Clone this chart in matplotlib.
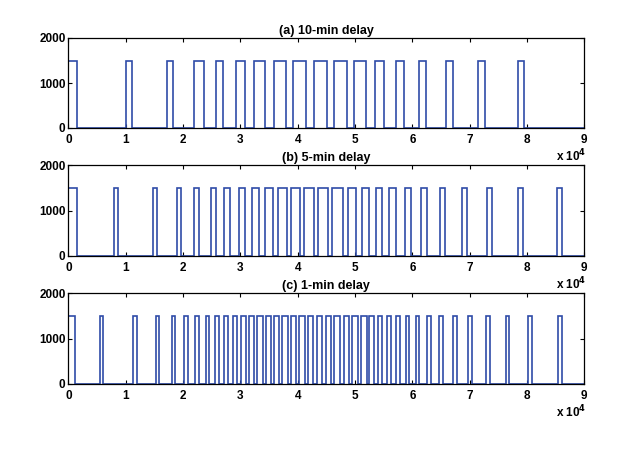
import matplotlib
matplotlib.use("Agg")
import matplotlib.pyplot as plt
import numpy as np

plt.rcParams['font.family'] = ['Liberation Sans', 'DejaVu Sans']

titles = ["(a) 10-min delay", "(b) 5-min delay", "(c) 1-min delay"]
pulse_level = 1500

# pulse start / end times (seconds)
starts_a = [0, 10000, 17160, 21860, 25700, 29240, 32440, 35820, 39240, 42850, 46290,
            49880, 53490, 57100, 61110, 65820, 71510, 78380]
ends_a = [1560, 11050, 18310, 23660, 27030, 30810, 34300, 37910, 41450, 45060, 48550,
          51920, 55110, 58550, 62380, 67040, 72680, 79480]

starts_b = [0, 7960, 14710, 18900, 21920, 24830, 27200, 29770, 31980, 34250, 36520,
            38780, 41160, 43490, 45940, 48730, 51170, 53610, 55980, 58720, 61510,
            64830, 68720, 73080, 78380, 85180]
ends_b = [1460, 8710, 15410, 19600, 22790, 25700, 28200, 30810, 33250, 35750, 38090,
          40410, 42850, 45240, 47850, 50170, 52490, 54660, 57100, 59720, 62510,
          65700, 69480, 73950, 79250, 86050]

starts_c = [0, 5520, 11330, 15240, 18030, 20170, 22090, 23960, 25580, 27200, 28670,
            30120, 31510, 32960, 34420, 35890, 37320, 38840, 40280, 41850, 43320,
            44890, 46420, 48080, 49530, 51050, 52490, 53960, 55530, 57150, 58840,
            60590, 62510, 64650, 67040, 69760, 72850, 76290, 80230, 85460]
ends_c = [1160, 6100, 11920, 15810, 18600, 20820, 22740, 24590, 26280, 27900, 29470,
          30990, 32440, 33900, 35350, 36800, 38260, 39710, 41280, 42730, 44300,
          45760, 47380, 49010, 50470, 52040, 53370, 54760, 56230, 57850, 59420,
          61220, 63200, 65400, 67740, 70460, 73550, 76920, 80820, 86050]

xticks = [0, 10000, 20000, 30000, 40000, 50000, 60000, 70000, 80000, 90000]
xticklabels = ["0", "1", "2", "3", "4", "5", "6", "7", "8", "9"]
yticks = [0, 1000, 2000]
yticklabels = ["0", "1000", "2000"]

series = [(starts_a, ends_a), (starts_b, ends_b), (starts_c, ends_c)]

fig = plt.figure(figsize=(6.34, 4.57), dpi=100)
W, H = 634, 457
panels = [(38, 128), (165, 256), (293, 384)]
left_px, right_px = 68.35, 584.3

line_color = '#2f4ca8'

for (top, bot), title, (st, en) in zip(panels, titles, series):
    ax = fig.add_axes([left_px / W, 1 - bot / H, (right_px - left_px) / W, (bot - top) / H])
    xs = [0.0]
    ys = [0.0]
    for s, e in zip(st, en):
        xs += [s, s, e, e]
        ys += [0, pulse_level, pulse_level, 0]
    xs.append(90000)
    ys.append(0)
    ax.plot(xs, ys, color=line_color, lw=1.2, solid_joinstyle='miter')
    ax.set_xlim(0, 90000)
    ax.set_ylim(0, 2000)
    ax.set_xticks(xticks)
    ax.set_xticklabels(xticklabels)
    ax.set_yticks(yticks)
    ax.set_yticklabels(yticklabels)
    ax.tick_params(direction='in', length=3, width=0.8, labelsize=8.5,
                   top=True, right=True)
    ax.tick_params(axis='x', pad=4)
    ax.tick_params(axis='y', pad=2)
    for lab in ax.get_xticklabels() + ax.get_yticklabels():
        lab.set_fontweight('bold')
    for sp in ax.spines.values():
        sp.set_linewidth(0.9)
    ax.set_title(title, fontsize=9, fontweight='bold', pad=3)
    fig.text(556 / W, 1 - (bot + 33) / H, r"x 10$^{\mathbf{4}}$", fontsize=8.5,
             fontweight='bold', ha='left', va='baseline')

fig.savefig("out.png", dpi=100, facecolor='white')
